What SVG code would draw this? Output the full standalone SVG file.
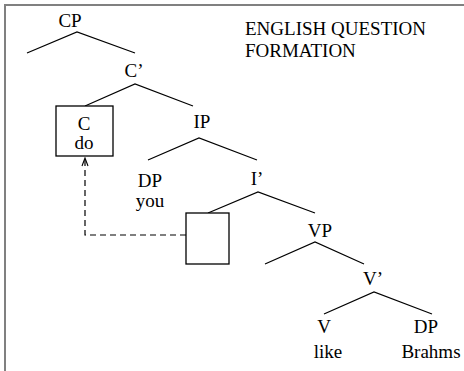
<svg xmlns="http://www.w3.org/2000/svg" width="464" height="371" viewBox="0 0 464 371">
<defs>
<style>
text{font-family:"Liberation Serif","Times New Roman",serif;font-size:19px;fill:#000;text-anchor:middle}
.t{text-anchor:start}
.e{stroke:#000;stroke-width:1.2;fill:none}
.b{stroke:#000;stroke-width:1.3;fill:#fff}
.d{stroke:#000;stroke-width:1.2;fill:none;stroke-dasharray:6,4}
</style>
<marker id="ah" markerWidth="10" markerHeight="10" refX="9" refY="5" orient="auto" markerUnits="userSpaceOnUse">
<path d="M1,2 L9,5 L1,8" stroke="#000" stroke-width="1.1" fill="none"/>
</marker>
</defs>
<rect width="464" height="371" fill="#fff"/>
<path d="M5,371 V5 H464" stroke="#808080" stroke-width="2" fill="none"/>
<g id="title"><text class="t" x="245" y="35">ENGLISH QUESTION</text><text class="t" x="245" y="57">FORMATION</text></g>
<g id="connectors">
<path class="e" d="M27,53 L77,32 L135,53"/>
<path class="e" d="M85,106 L135,84 L193,106"/>
<path class="e" d="M148,160 L199,138 L257,160"/>
<path class="e" d="M208,213 L258,192 L315,213"/>
<path class="e" d="M265,264 L315,242 L364,264"/>
<path class="e" d="M324,314 L374,292 L432,314"/>
<path class="d" d="M186,235 H85 V158" marker-end="url(#ah)"/>
</g>
<g id="CP"><text x="70" y="27">CP</text></g>
<g id="Cbar"><text x="134" y="77">C’</text></g>
<g id="C"><rect class="b" x="56" y="106" width="57" height="50"/><text x="84" y="130">C</text><text x="84" y="149">do</text></g>
<g id="IP"><text x="202" y="128">IP</text></g>
<g id="DP1"><text x="150" y="187">DP</text><text x="150" y="207">you</text></g>
<g id="Ibar"><text x="257" y="185">I’</text></g>
<g id="I"><rect class="b" x="186" y="213" width="43" height="51"/></g>
<g id="VP"><text x="320" y="237">VP</text></g>
<g id="Vbar"><text x="373" y="285">V’</text></g>
<g id="V"><text x="324" y="333">V</text><text x="328" y="358">like</text></g>
<g id="DP2"><text x="426" y="333">DP</text><text x="431" y="358">Brahms</text></g>
</svg>
